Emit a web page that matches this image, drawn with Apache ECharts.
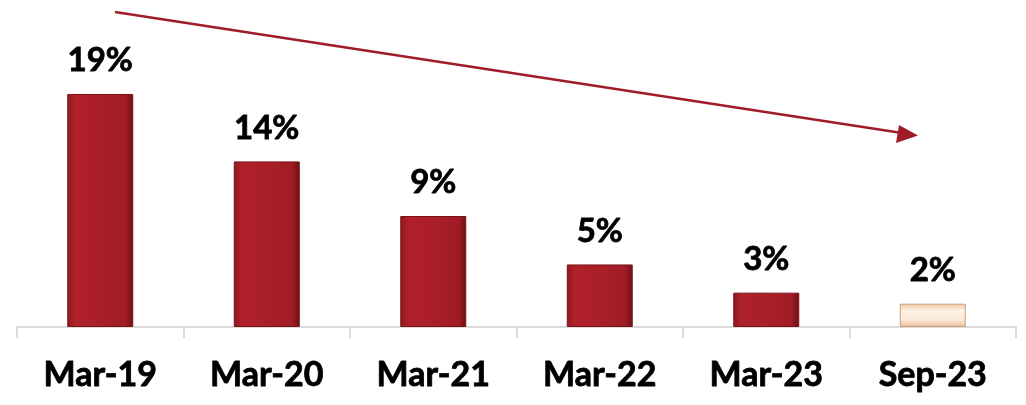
<!DOCTYPE html>
<html>
<head>
<meta charset="utf-8">
<script src="https://cdn.jsdelivr.net/npm/echarts@6/dist/echarts.min.js"></script>
<style>
  html, body { margin: 0; padding: 0; background: #fff; }
  #chart { width: 1026px; height: 405px; }
</style>
</head>
<body>
<div id="chart"></div>
<script>
// periods and share values (%)
var periods = ['Mar-19', 'Mar-20', 'Mar-21', 'Mar-22', 'Mar-23', 'Sep-23'];
var shares = [19.0, 13.5, 9.05, 5.1, 2.8, 1.9];

var redBar = {
  type: 'linear', x: 0, y: 0, x2: 1, y2: 0,
  colorStops: [
    { offset: 0, color: '#8e1820' },
    { offset: 0.12, color: '#b0202a' },
    { offset: 0.5, color: '#aa1f28' },
    { offset: 0.88, color: '#a01c25' },
    { offset: 1, color: '#6e1017' }
  ]
};
var lightBar = {
  type: 'linear', x: 0, y: 0, x2: 0, y2: 1,
  colorStops: [
    { offset: 0, color: '#f0c6a4' },
    { offset: 0.3, color: '#fdf2e4' },
    { offset: 0.7, color: '#fbe9d6' },
    { offset: 1, color: '#e8b893' }
  ]
};

var chart = echarts.init(document.getElementById('chart'));
chart.setOption({
  animation: false,
  grid: { left: 17, right: 10, top: 40, bottom: 78 },
  xAxis: {
    type: 'category',
    data: periods,
    axisLine: { lineStyle: { color: '#d0d0d0', width: 1.5 } },
    axisTick: { show: true, length: 11, lineStyle: { color: '#d0d0d0', width: 1.5 } },
    axisLabel: {
      margin: 31,
      color: '#000',
      fontFamily: 'Lato',
      fontWeight: 'bold',
      fontSize: 34,
      textBorderColor: '#000',
      textBorderWidth: 0.8
    }
  },
  yAxis: {
    type: 'value',
    min: 0,
    max: 23.4,
    show: false,
    splitLine: { show: false }
  },
  series: [{
    type: 'bar',
    barWidth: 66,
    data: shares.map(function (v, i) {
      return {
        value: v,
        itemStyle: {
          color: i === shares.length - 1 ? lightBar : redBar,
          borderColor: i === shares.length - 1 ? '#c9a080' : '#7a1218',
          borderWidth: 1
        }
      };
    }),
    label: {
      show: true,
      position: 'top',
      distance: 17,
      color: '#000',
      fontFamily: 'Lato',
      fontWeight: 'bold',
      fontSize: 33,
      textBorderColor: '#000',
      textBorderWidth: 0.8,
      formatter: function (p) { return Math.round(p.value) + '%'; }
    }
  }],
  graphic: [{
    type: 'line',
    shape: { x1: 115, y1: 12, x2: 902, y2: 133 },
    style: { stroke: '#a01c2a', lineWidth: 2.5 }
  }, {
    type: 'polygon',
    shape: { points: [[918, 135.5], [899, 125], [896, 143]] },
    style: { fill: '#a01c2a' }
  }]
});
</script>
</body>
</html>
